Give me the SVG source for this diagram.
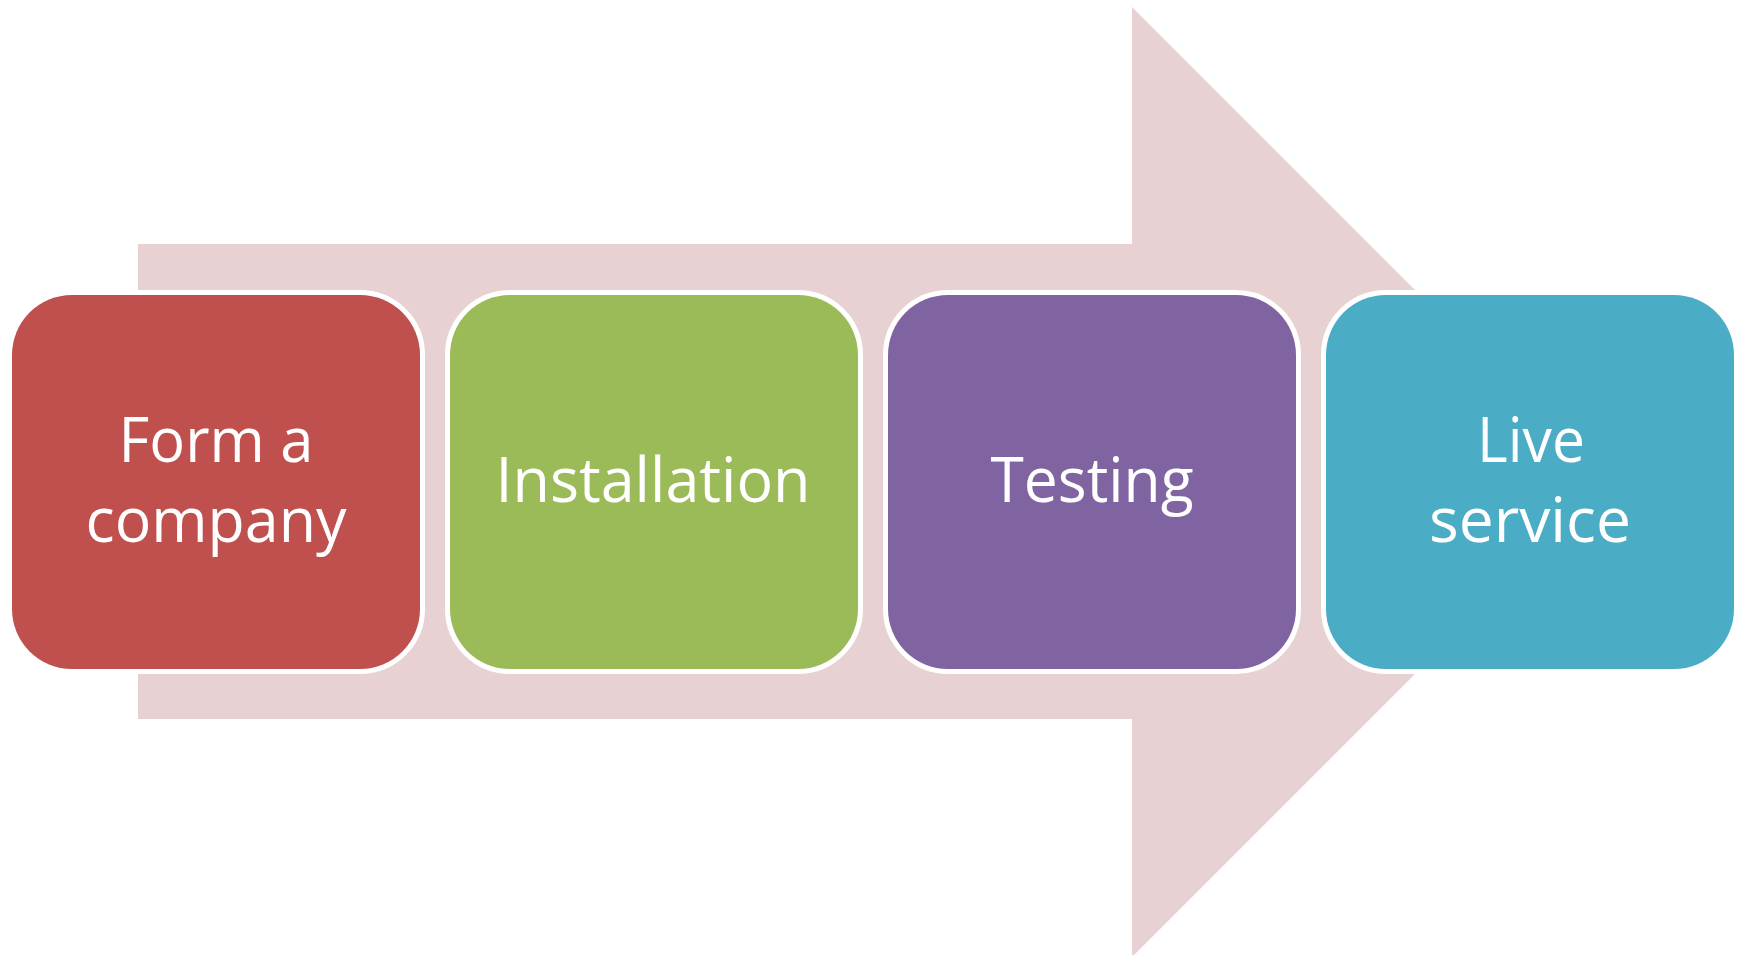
<svg xmlns="http://www.w3.org/2000/svg" width="1745" height="955" viewBox="0 0 1745 955">
<style>
.box{stroke:#ffffff;stroke-width:10;paint-order:stroke}
.lbl{font-family:"Open Sans","Noto Sans","Liberation Sans",sans-serif;font-size:63px;fill:#ffffff;text-anchor:middle}
</style>
<rect width="1745" height="955" fill="#ffffff"/>
<g id="connectors">
<polygon id="arrow" points="138,244 1132,244 1132,7 1607,482 1132,957 1132,719 138,719" fill="#E8D1D2"/>
</g>
<g id="node1">
<rect class="box" x="12" y="295" width="408" height="374" rx="60" ry="60" fill="#C0504D"/>
<text class="lbl" x="216" y="462" textLength="195" lengthAdjust="spacingAndGlyphs">Form a</text>
<text class="lbl" x="216" y="542" textLength="261" lengthAdjust="spacingAndGlyphs">company</text>
</g>
<g id="node2">
<rect class="box" x="450" y="295" width="408" height="374" rx="60" ry="60" fill="#9BBB59"/>
<text class="lbl" x="653" y="502" textLength="315" lengthAdjust="spacingAndGlyphs">Installation</text>
</g>
<g id="node3">
<rect class="box" x="888" y="295" width="408" height="374" rx="60" ry="60" fill="#8064A2"/>
<text class="lbl" x="1092" y="502" textLength="203" lengthAdjust="spacingAndGlyphs">Testing</text>
</g>
<g id="node4">
<rect class="box" x="1326" y="295" width="408" height="374" rx="60" ry="60" fill="#4BACC6"/>
<text class="lbl" x="1531" y="462" textLength="108" lengthAdjust="spacingAndGlyphs">Live</text>
<text class="lbl" x="1530" y="542" textLength="202" lengthAdjust="spacingAndGlyphs">service</text>
</g>
</svg>
